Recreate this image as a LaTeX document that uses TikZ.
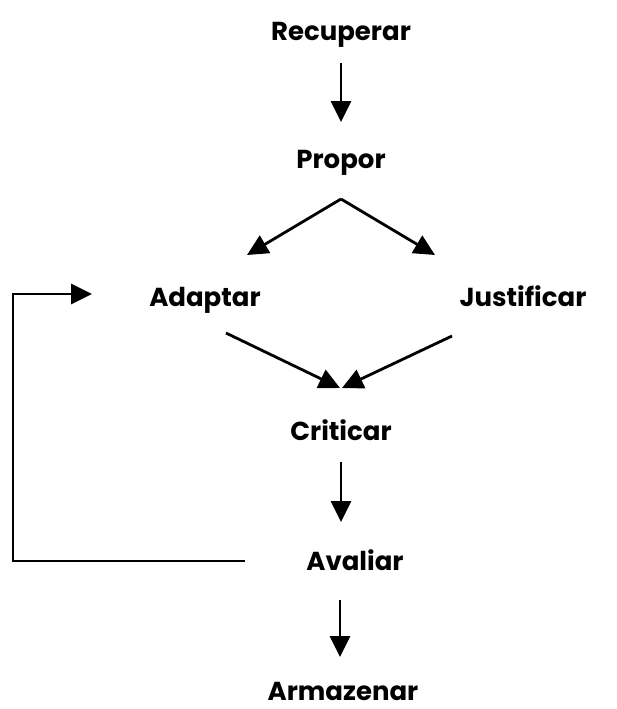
\documentclass[tikz,border=0pt]{standalone}
\usepackage{fontspec}
\setmainfont{Poppins}
\usetikzlibrary{arrows.meta,positioning}
\tikzset{stage/.style={font=\fontsize{26}{30}\selectfont\bfseries,inner sep=0pt,anchor=base},
 flow/.style={-{Triangle[length=21pt,width=20pt]},line width=2.8pt}}
\begin{document}
\begin{tikzpicture}[x=1pt,y=-1pt]
\useasboundingbox (0,0) rectangle (617,709);
\node[stage] (rec) at (341,41) {Recuperar};
\node[stage] (prop) at (341,168) {Propor};
\node[stage] (adapt) at (205,306) {Adaptar};
\node[stage] (just) at (523,306) {Justificar};
\node[stage] (crit) at (341,440) {Criticar};
\node[stage] (aval) at (355,570) {Avaliar};
\node[stage] (arm) at (343,700) {Armazenar};
\draw[flow] ([yshift=-22pt]rec.base) -- ([yshift=46pt]prop.base);
\draw[flow] ([yshift=-31pt]prop.base) -- ([xshift=42pt,yshift=51pt]adapt.base);
\draw[flow] ([yshift=-31pt]prop.base) -- ([xshift=-88pt,yshift=51pt]just.base);
\draw[flow] ([xshift=21pt,yshift=-27pt]adapt.base) -- ([xshift=-1pt,yshift=52pt]crit.base);
\draw[flow] ([xshift=-71pt,yshift=-30pt]just.base) -- ([xshift=1pt,yshift=52pt]crit.base);
\draw[flow] ([yshift=-22pt]crit.base) -- ([xshift=-14pt,yshift=48pt]aval.base);
\draw[flow] ([xshift=-15pt,yshift=-30pt]aval.base) -- ([xshift=-3pt,yshift=43pt]arm.base);
% retorno de Avaliar para Adaptar
\draw[flow] ([xshift=-110pt,yshift=9pt]aval.base) -- ++(-232,0) |- ([xshift=-113pt,yshift=12pt]adapt.base);
\end{tikzpicture}
\end{document}
